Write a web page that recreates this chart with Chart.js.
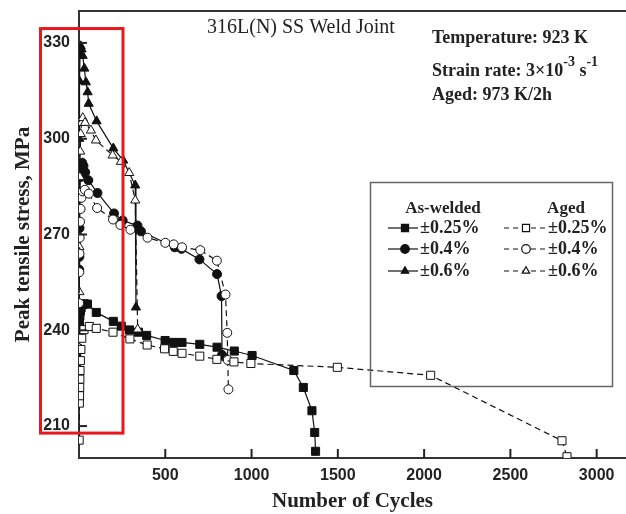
<!DOCTYPE html>
<html>
<head>
<meta charset="utf-8">
<script src="https://cdn.jsdelivr.net/npm/chart.js@4.4.1/dist/chart.umd.min.js"></script>
<style>
  body { margin: 0; background: #fff; }
  #wrap { width: 626px; height: 514px; }
</style>
</head>
<body>
<div id="wrap"><canvas id="lcfChart" width="626" height="514"></canvas></div>
<script>
// cycles (N) and peak tensile stress (MPa)
const awN025 = [1, 2, 3, 5, 8, 12, 20, 30, 49, 100, 199, 245, 293, 345, 392, 499, 549, 597, 700, 800, 900, 1003, 1245, 1300, 1350, 1366, 1371];
const awS025 = [219.5, 238, 242, 244.5, 246, 247, 248, 248.3, 248.2, 245.6, 242.8, 241.3, 240.1, 239.4, 238.4, 236.8, 236.2, 236.2, 235.6, 234.7, 233.5, 232.1, 227.4, 222.1, 214.8, 208, 202.1];

const agN025 = [1, 2, 3, 4, 5, 6, 8, 11, 16, 29, 60, 100, 197, 295, 395, 496, 546, 597, 700, 799, 898, 996, 1497, 2038, 2799, 2828];
const agS025 = [205.6, 217.2, 219.5, 222.1, 224.7, 227.4, 230.5, 234, 237.5, 240.2, 241.2, 240.6, 239.4, 237.3, 235.4, 234.2, 233.4, 232.8, 231.9, 230.9, 230.1, 229.6, 228.4, 225.9, 205.4, 200.4];

const awN04 = [1, 2, 3, 5, 8, 12, 18, 26, 36, 54, 107, 203, 253, 339, 359, 555, 594, 698, 800, 826, 829];
const awS04 = [259, 263, 272, 282, 288, 291.5, 292.5, 291.5, 289.5, 287, 283, 276.6, 274.4, 272.8, 271, 266, 265.5, 262.2, 257.6, 250.7, 232.3];

const agN04 = [1, 2, 3, 4, 6, 9, 14, 22, 34, 57, 105, 197, 240, 298, 397, 500, 549, 597, 703, 799, 849, 859, 862, 866];
const agS04 = [248.5, 258.2, 264, 269, 274, 278, 281.5, 283.5, 284, 282.8, 278.3, 274.7, 273, 271.5, 269, 267.4, 266.9, 266, 265.1, 261.8, 251.2, 239.2, 230.7, 221.5];

const awN06 = [1, 3, 6, 10, 15, 21, 31, 40, 50, 56, 102, 199, 256, 326, 330];
const awS06 = [300, 318, 326, 329, 328, 326, 322, 317.7, 314.6, 311, 305.5, 297, 293.2, 285.4, 247.2];

const agN06 = [1, 2, 3, 4, 5, 7, 10, 15, 22, 35, 69, 98, 195, 243, 291, 326, 340];
const agS06 = [234.5, 252, 266, 278, 288, 296, 301.5, 305, 306.5, 305, 302.6, 299.5, 294.8, 292.8, 289.3, 280.7, 240.3];

const xTicks = [500, 1000, 1500, 2000, 2500, 3000];
const yTicks = [210, 240, 270, 300, 330];
const strainLabels = ['\u00b10.25%', '\u00b10.4%', '\u00b10.6%'];

// highlighted region (data units)
const redBox = { xMin: -223, xMax: 255, yMin: 207.8, yMax: 334.5 };

const pts = (n, s) => n.map((v, i) => ({ x: v, y: s[i] }));

function series(label, n, s, style, filled, dashed) {
  return {
    label: label,
    data: pts(n, s),
    borderColor: '#111',
    borderWidth: 1.2,
    borderDash: dashed ? [6, 4] : [],
    backgroundColor: filled ? '#111' : '#fff',
    pointBackgroundColor: filled ? '#111' : '#fff',
    pointBorderColor: '#111',
    pointBorderWidth: 1,
    pointStyle: style,
    pointRadius: style === 'rect' ? 5.7 : (style === 'triangle' ? 5.3 : 4.5),
    tension: 0,
    fill: false
  };
}

const datasets = [
  series('Aged \u00b10.25%', agN025, agS025, 'rect', false, true),
  series('Aged \u00b10.4%', agN04, agS04, 'circle', false, true),
  series('Aged \u00b10.6%', agN06, agS06, 'triangle', false, true),
  series('As-welded \u00b10.25%', awN025, awS025, 'rect', true, false),
  series('As-welded \u00b10.4%', awN04, awS04, 'circle', true, false),
  series('As-welded \u00b10.6%', awN06, awS06, 'triangle', true, false)
];

const serif = '"Liberation Serif", "Times New Roman", serif';
const sans = '"Liberation Sans", Arial, sans-serif';

// texts, legend, inward ticks, frame and red box
const extras = {
  id: 'extras',
  afterDraw(chart) {
    const { ctx, chartArea: a, scales: { x, y } } = chart;
    ctx.save();

    // top frame
    ctx.strokeStyle = '#333';
    ctx.lineWidth = 2;
    ctx.beginPath();
    ctx.moveTo(a.left, a.top);
    ctx.lineTo(a.right, a.top);
    ctx.stroke();

    // inward tick marks
    ctx.strokeStyle = '#222';
    yTicks.forEach(v => {
      const py = y.getPixelForValue(v);
      ctx.beginPath(); ctx.moveTo(a.left, py); ctx.lineTo(a.left + 8, py); ctx.stroke();
    });
    xTicks.forEach(v => {
      const px = x.getPixelForValue(v);
      ctx.beginPath(); ctx.moveTo(px, a.bottom); ctx.lineTo(px, a.bottom - 9); ctx.stroke();
    });

    // annotation texts
    ctx.fillStyle = '#222';
    ctx.textBaseline = 'alphabetic';
    ctx.textAlign = 'left';
    ctx.font = '20px ' + serif;
    ctx.fillText('316L(N) SS Weld Joint', 207, 33);

    ctx.font = 'bold 18px ' + serif;
    ctx.fillText('Temperature: 923 K', 432, 43);
    ctx.fillText('Aged: 973 K/2h', 432, 100);
    let tx = 432;
    const seg = (t, font, dy) => { ctx.font = font; ctx.fillText(t, tx, 76 + dy); tx += ctx.measureText(t).width; };
    seg('Strain rate: 3\u00d710', 'bold 18px ' + serif, 0);
    seg('-3', 'bold 14px ' + serif, -10);
    seg(' s', 'bold 18px ' + serif, 0);
    seg('-1', 'bold 14px ' + serif, -10);

    // legend box
    ctx.strokeStyle = '#666';
    ctx.lineWidth = 1.5;
    ctx.strokeRect(370.5, 182.5, 242, 204);
    ctx.fillStyle = '#222';
    ctx.font = 'bold 17px ' + serif;
    ctx.textAlign = 'center';
    ctx.fillText('As-welded', 443, 213);
    ctx.fillText('Aged', 566, 213);
    ctx.textAlign = 'left';
    const rowY = [228, 249, 271];
    const styles = ['rect', 'circle', 'triangle'];
    rowY.forEach((ry, i) => {
      // solid sample
      ctx.strokeStyle = '#111';
      ctx.lineWidth = 1.2;
      ctx.setLineDash([]);
      ctx.beginPath(); ctx.moveTo(388, ry); ctx.lineTo(418, ry); ctx.stroke();
      ctx.fillStyle = '#111';
      Chart.helpers.drawPoint(ctx, { pointStyle: styles[i], radius: styles[i] === 'rect' ? 5 : 4.3, rotation: 0, borderWidth: 1 }, 405, ry);
      // dashed sample
      ctx.setLineDash([5, 4]);
      ctx.beginPath(); ctx.moveTo(504, ry); ctx.lineTo(546, ry); ctx.stroke();
      ctx.setLineDash([]);
      ctx.fillStyle = '#fff';
      Chart.helpers.drawPoint(ctx, { pointStyle: styles[i], radius: styles[i] === 'rect' ? 5 : 4.3, rotation: 0, borderWidth: 1 }, 526, ry);
      ctx.fillStyle = '#222';
      ctx.font = 'bold 18px ' + serif;
      ctx.fillText(strainLabels[i], 420, ry + 5);
      ctx.fillText(strainLabels[i], 548, ry + 5);
    });

    // red highlight box
    const l = x.getPixelForValue(redBox.xMin), r = x.getPixelForValue(redBox.xMax);
    const t = y.getPixelForValue(redBox.yMax), b = y.getPixelForValue(redBox.yMin);
    ctx.strokeStyle = '#e8161d';
    ctx.lineWidth = 3;
    ctx.strokeRect(l, t, r - l, b - t);
    ctx.restore();
  }
};

const ctx1 = document.getElementById('lcfChart').getContext('2d');
const lcfChart = new Chart(ctx1, {
  type: 'line',
  data: { datasets: datasets },
  options: {
    responsive: false,
    animation: false,
    layout: { autoPadding: false, padding: { top: 11, right: 0, bottom: 0, left: 0 } },
    plugins: { legend: { display: false }, tooltip: { enabled: false } },
    scales: {
      x: {
        type: 'linear',
        min: 0,
        max: 3170,
        afterBuildTicks: s => { s.ticks = xTicks.map(v => ({ value: v })); },
        afterFit: s => { s.height = 56; s.paddingLeft = 0; s.paddingRight = 0; },
        grid: { display: false },
        border: { display: true, width: 2, color: '#333' },
        ticks: { padding: 0, color: '#222', maxRotation: 0, callback: v => String(v),
                 font: { family: sans, size: 16, weight: 'bold' } },
        title: { display: true, text: 'Number of Cycles', color: '#222',
                 font: { family: serif, size: 21, weight: 'bold' }, padding: { top: 0, bottom: 0 } }
      },
      y: {
        type: 'linear',
        min: 200,
        max: 340,
        afterBuildTicks: s => { s.ticks = yTicks.map(v => ({ value: v })); },
        afterFit: s => { s.width = 79; s.paddingTop = 0; s.paddingBottom = 0; },
        grid: { display: false },
        border: { display: true, width: 2, color: '#333' },
        ticks: { padding: 1, color: '#222', callback: v => String(v),
                 font: { family: sans, size: 16, weight: 'bold' } },
        title: { display: true, text: 'Peak tensile stress, MPa', color: '#222',
                 font: { family: serif, size: 21, weight: 'bold' }, padding: { top: 11, bottom: 0 } }
      }
    }
  },
  plugins: [extras]
});
</script>
</body>
</html>
